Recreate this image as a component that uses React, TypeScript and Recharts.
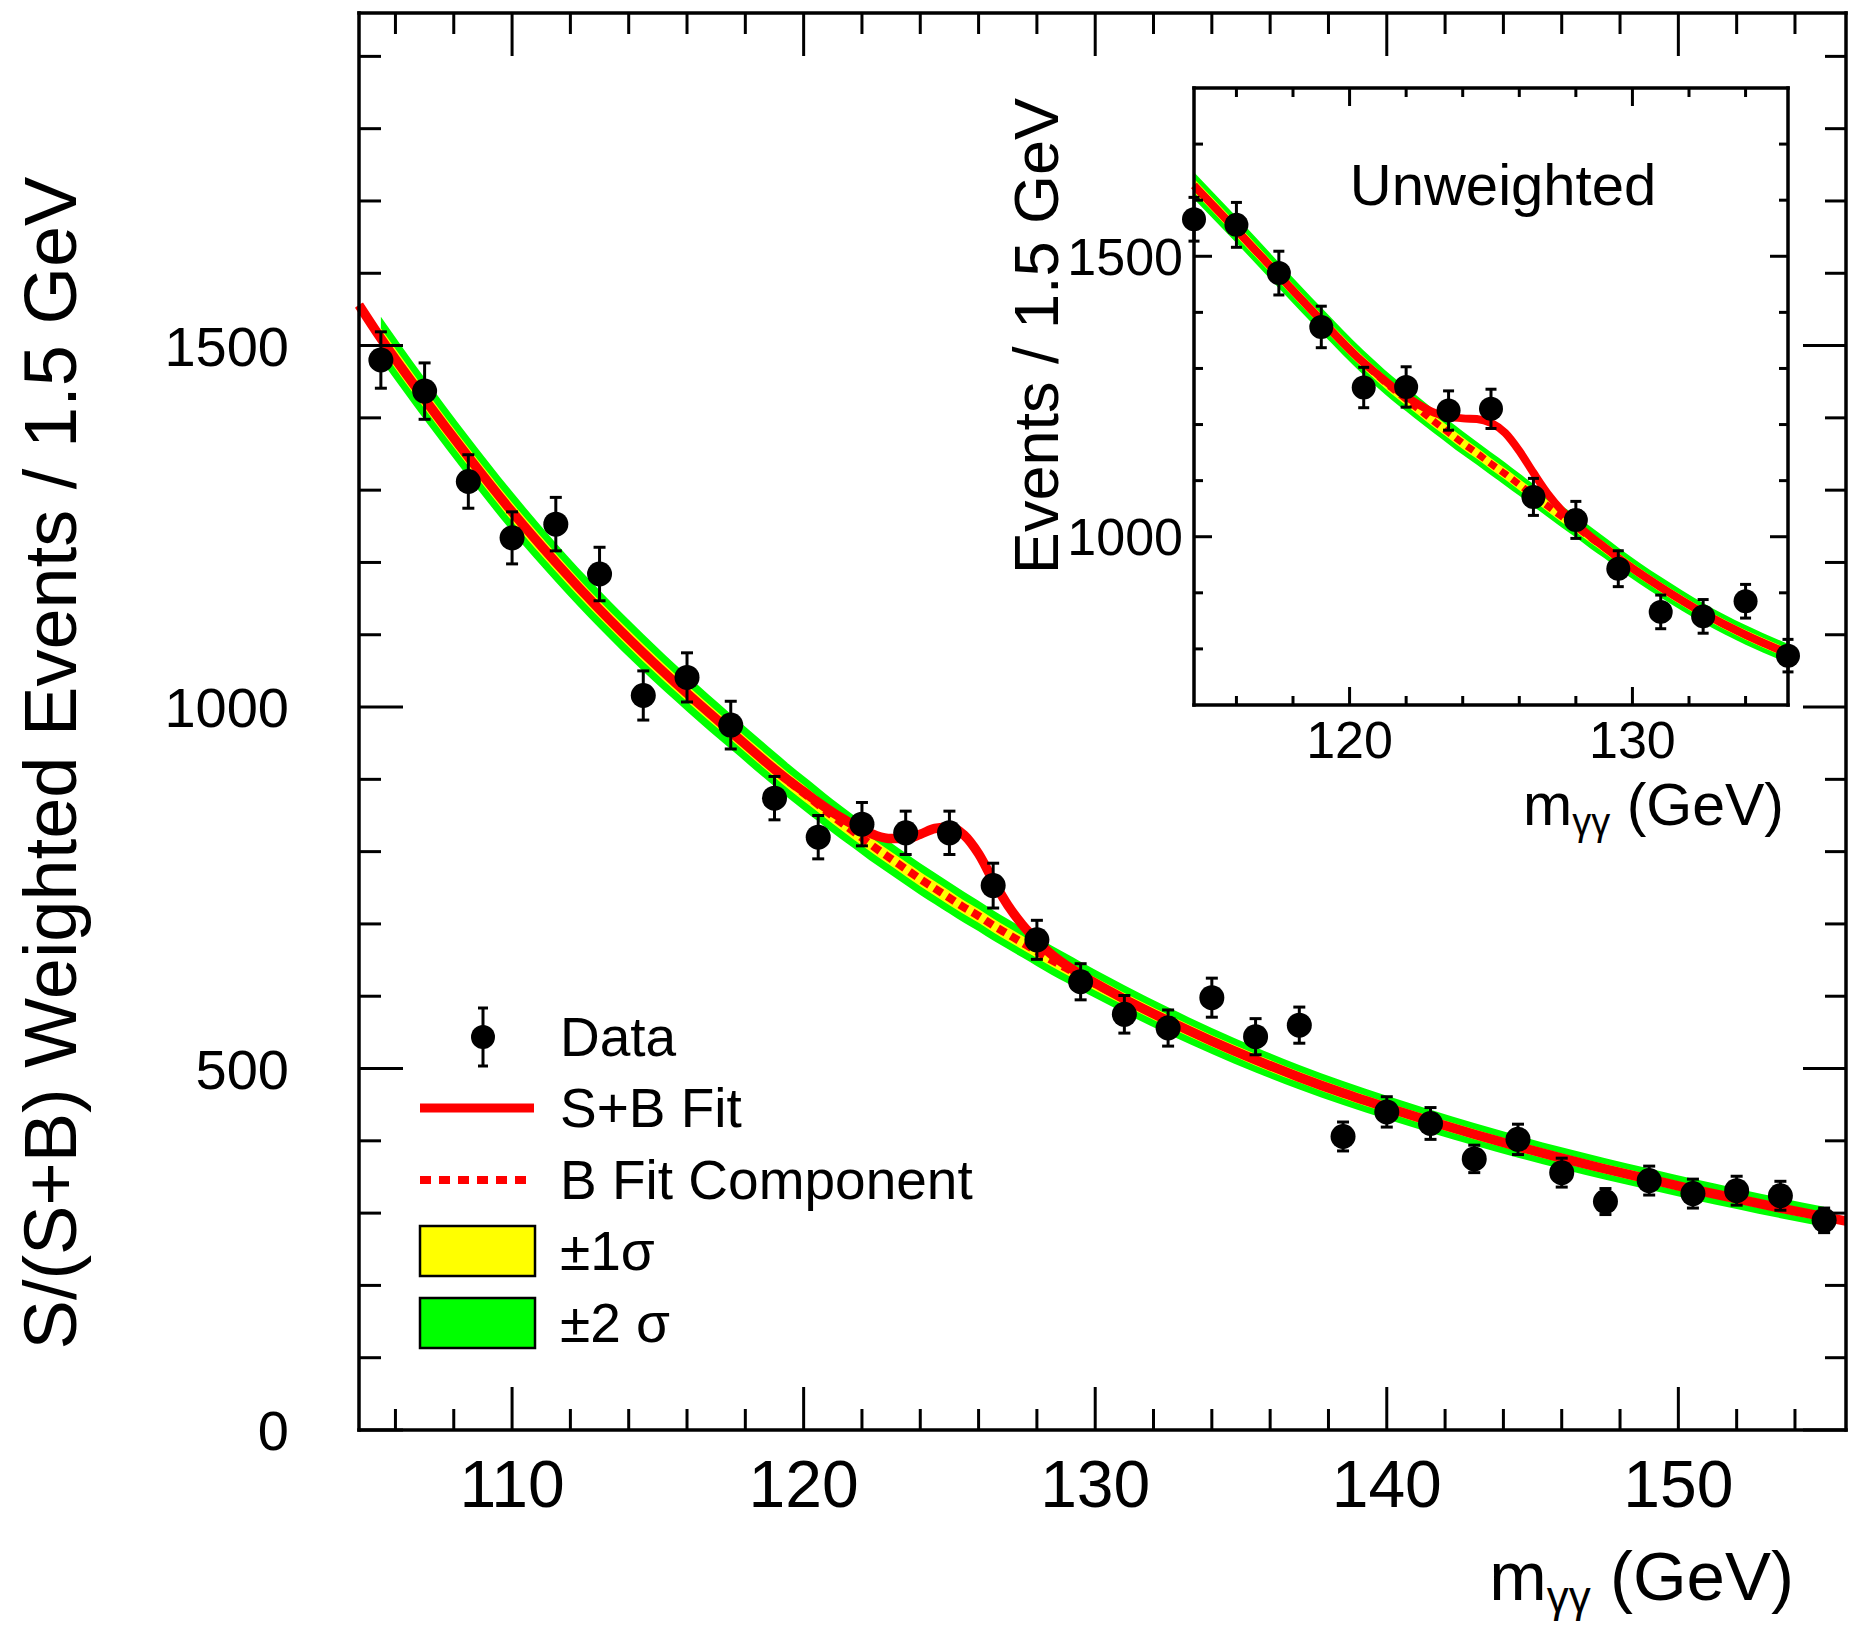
import React from 'react';
import { ComposedChart, Line, Area, Scatter, ErrorBar, XAxis, YAxis } from 'recharts';

const FONT = '"Liberation Sans", Arial, Helvetica, sans-serif';
const RED = '#ff0000';
const GREEN = '#00ff00';
const YELLOW = '#ffff00';

// ---- main plot: weighted events, bin centres every 1.5 GeV ----
const mainMass = [105.5, 107, 108.5, 110, 111.5, 113, 114.5, 116, 117.5, 119, 120.5, 122, 123.5, 125, 126.5, 128, 129.5, 131, 132.5, 134, 135.5, 137, 138.5, 140, 141.5, 143, 144.5, 146, 147.5, 149, 150.5, 152, 153.5, 155];
const mainEvents = [1480, 1437, 1312, 1234, 1253, 1184, 1016, 1041, 975, 874, 820, 838, 826, 826, 753, 678, 620, 575, 556, 598, 544, 560, 406, 440, 424, 375, 402, 356, 316, 345, 327, 331, 324, 290];
const mainErr = [39, 39, 37, 36, 37, 37, 34, 34, 33, 30, 30, 30, 30, 30, 31, 27, 25, 26, 25, 27, 25, 25, 20, 21, 22, 19, 21, 20, 18, 20, 20, 20, 20, 17];

// fit curves
const fitMass = [104.75, 105.5, 107, 108.5, 110, 111.5, 113, 114.5, 116, 117.5, 119, 119.5, 120, 120.5, 121, 121.5, 122, 122.5, 123, 123.5, 124, 124.5, 125, 125.5, 126, 126.5, 127, 127.5, 128, 128.5, 129, 129.5, 130, 131, 132.5, 134, 135.5, 137, 138.5, 140, 141.5, 143, 144.5, 146, 147.5, 149, 150.5, 152, 153.5, 155, 155.75];
const fitBkg = [1556, 1510, 1426, 1346, 1270, 1200, 1135, 1075, 1019, 966, 914, 897, 881, 865, 849, 834, 819, 804, 790, 776, 762, 749, 736, 723, 711, 698, 686, 674, 662, 650, 639, 628, 617, 596, 566, 538, 512, 488, 466, 446, 427, 409, 392, 376, 361, 347, 333, 320, 307, 295, 289];
const fitSigBkg = [1556, 1510, 1426, 1346, 1270, 1200, 1135, 1075, 1019, 966, 914, 898, 883, 868, 854, 842, 831, 822, 818, 818, 824, 832, 834, 823, 797, 760, 726, 699, 677, 658, 643, 630, 618, 596, 566, 538, 512, 488, 466, 446, 427, 409, 392, 376, 361, 347, 333, 320, 307, 295, 289];
const fitSigma1 = [null, 14, 13.5, 13, 13, 12.5, 12, 12, 11.5, 11, 11, 11, 11, 10.5, 10.5, 10.5, 10.5, 10, 10, 10, 10, 10, 10, 9.5, 9.5, 9.5, 9.5, 9.5, 9, 9, 9, 9, 9, 8.5, 8.5, 8, 8, 7.5, 7.5, 7, 7, 7, 6.5, 6.5, 6.5, 6.5, 6, 6, 6, 6, null];
const fitSigma2 = [null, 30, 29, 28.5, 28, 27, 26.5, 26, 25, 24.5, 24, 23.8, 23.6, 23.4, 23.2, 23, 22.8, 22.6, 22.4, 22.2, 22, 21.8, 21.6, 21.4, 21.2, 21, 20.8, 20.6, 20.4, 20.2, 20, 19.8, 19.6, 19.2, 18.6, 18, 17.5, 17, 16.6, 16.2, 15.9, 15.6, 15.3, 15, 14.8, 14.6, 14.4, 14.2, 14, 13.8, null];

// ---- inset: unweighted ----
const insetMass = [114.5, 116, 117.5, 119, 120.5, 122, 123.5, 125, 126.5, 128, 129.5, 131, 132.5, 134, 135.5];
const insetEvents = [1566, 1556, 1470, 1374, 1266, 1267, 1225, 1228, 1071, 1030, 943, 866, 858, 885, 788];
const insetErr = [39, 40, 39, 37, 36, 36, 35, 35, 33, 33, 32, 30, 30, 30, 29];

const insetFitMass = [114.5, 116, 117.5, 119, 120.5, 121, 121.5, 122, 122.5, 123, 123.5, 124, 124.5, 125, 125.5, 126, 126.5, 127, 127.5, 128, 128.5, 129, 129.5, 131, 132.5, 134, 135.5];
const insetBkg = [1626, 1547, 1466, 1386, 1310, 1287, 1265, 1245, 1225, 1205, 1186, 1167, 1149, 1130, 1112, 1093, 1074, 1055, 1036, 1018, 999, 981, 962, 910, 864, 825, 792];
const insetSigBkg = [1626, 1547, 1466, 1386, 1310, 1289, 1268, 1250, 1234, 1221, 1214, 1211, 1210, 1203, 1185, 1153, 1114, 1077, 1047, 1023, 1001, 982, 962, 910, 864, 825, 792];
const insetSigma1 = [12, 12, 11.5, 11, 11, 11, 11, 11, 10.5, 10.5, 10.5, 10.5, 10, 10, 10, 10, 10, 10, 10, 9.5, 9.5, 9.5, 9.5, 9, 9, 8.5, 8.5];
const insetSigma2 = [24, 23.5, 23, 22.5, 22, 22, 21.5, 21.5, 21.5, 21, 21, 21, 20.5, 20.5, 20.5, 20, 20, 20, 19.5, 19.5, 19.5, 19, 19, 18.5, 18, 17.5, 17];

// ---- axes ----
const mainXTicks = [106, 108, 110, 112, 114, 116, 118, 120, 122, 124, 126, 128, 130, 132, 134, 136, 138, 140, 142, 144, 146, 148, 150, 152, 154];
const mainXLabels = [110, 120, 130, 140, 150];
const mainYTicks = [0, 100, 200, 300, 400, 500, 600, 700, 800, 900, 1000, 1100, 1200, 1300, 1400, 1500, 1600, 1700, 1800, 1900];
const mainYLabels = [0, 500, 1000, 1500];
const insetXTicks = [116, 118, 120, 122, 124, 126, 128, 130, 132, 134];
const insetXLabels = [120, 130];
const insetYTicks = [800, 900, 1000, 1100, 1200, 1300, 1400, 1500, 1600, 1700];
const insetYLabels = [1000, 1500];

type Band = number | null;

function buildFit(mass: number[], bkg: number[], sb: number[], s1: Band[], s2: Band[]) {
  return mass.map((m, i) => ({
    x: m,
    b: bkg[i],
    sb: sb[i],
    s1: s1[i] == null ? null : [bkg[i] - (s1[i] as number), bkg[i] + (s1[i] as number)],
    s2: s2[i] == null ? null : [bkg[i] - (s2[i] as number), bkg[i] + (s2[i] as number)],
  }));
}

function buildPoints(mass: number[], ev: number[], err: number[]) {
  return mass.map((m, i) => ({ x: m, y: ev[i], err: err[i] }));
}

const mainFit = buildFit(fitMass, fitBkg, fitSigBkg, fitSigma1, fitSigma2);
const mainPoints = buildPoints(mainMass, mainEvents, mainErr);
const insetFit = buildFit(insetFitMass, insetBkg, insetSigBkg, insetSigma1, insetSigma2);
const insetPoints = buildPoints(insetMass, insetEvents, insetErr);

type Side = 'bottom' | 'top' | 'left' | 'right';

// inward ticks like the ROOT frame, labels only on major ticks
function makeTick(side: Side, majors: number[], minorLen: number, majorLen: number, fontSize = 0, offset = 0) {
  return (props: any) => {
    const { x, y, payload } = props;
    const v = payload.value;
    const major = majors.includes(v);
    const len = major ? majorLen : minorLen;
    let x2 = x;
    let y2 = y;
    if (side === 'bottom') y2 = y - len;
    if (side === 'top') y2 = y + len;
    if (side === 'left') x2 = x + len;
    if (side === 'right') x2 = x - len;
    return (
      <g>
        <line x1={x} y1={y} x2={x2} y2={y2} stroke="#000" strokeWidth={3} />
        {major && fontSize > 0 && side === 'bottom' && (
          <text x={x} y={y + offset} textAnchor="middle" fontSize={fontSize} fontFamily={FONT} fill="#000">
            {v}
          </text>
        )}
        {major && fontSize > 0 && side === 'left' && (
          <text x={x - offset} y={y + fontSize * 0.36} textAnchor="end" fontSize={fontSize} fontFamily={FONT} fill="#000">
            {v}
          </text>
        )}
      </g>
    );
  };
}

const dot = (r: number) => (props: any) => <circle cx={props.cx} cy={props.cy} r={r} fill="#000" />;

const frame = { stroke: '#000', strokeWidth: 3.5, strokeLinecap: 'square' as const };

function Legend() {
  const tx = 560;
  const text = (y: number, s: React.ReactNode) => (
    <text x={tx} y={y} fontSize={55} fontFamily={FONT} fill="#000">
      {s}
    </text>
  );
  return (
    <g>
      <line x1={483} x2={483} y1={1008} y2={1066} stroke="#000" strokeWidth={3} />
      <line x1={478} x2={488} y1={1008} y2={1008} stroke="#000" strokeWidth={3} />
      <line x1={478} x2={488} y1={1066} y2={1066} stroke="#000" strokeWidth={3} />
      <circle cx={483} cy={1037} r={12} fill="#000" />
      {text(1056, 'Data')}
      <line x1={420} x2={534} y1={1108} y2={1108} stroke={RED} strokeWidth={9} />
      {text(1127, 'S+B Fit')}
      <line x1={420} x2={532} y1={1180} y2={1180} stroke={RED} strokeWidth={8} strokeDasharray="11 8" />
      {text(1199, 'B Fit Component')}
      <rect x={420} y={1226} width={115} height={50} fill={YELLOW} stroke="#000" strokeWidth={2.5} />
      {text(1270, '±1σ')}
      <rect x={420} y={1298} width={115} height={50} fill={GREEN} stroke="#000" strokeWidth={2.5} />
      {text(1342, '±2 σ')}
    </g>
  );
}

// top and right frame axes, tied to an invisible copy of the fit so they render
function mirrorAxes(xDomain: number[], yDomain: number[], xTicks: number[], yTicks: number[], xMaj: number[], yMaj: number[], minor: number, major: number) {
  return [
    <XAxis
      key="xt"
      xAxisId="top"
      dataKey="x"
      orientation="top"
      type="number"
      domain={xDomain}
      ticks={xTicks}
      interval={0}
      height={1}
      tickSize={0}
      tickMargin={0}
      tickLine={false}
      axisLine={frame}
      tick={makeTick('top', xMaj, minor, major)}
    />,
    <YAxis
      key="yr"
      yAxisId="right"
      orientation="right"
      type="number"
      domain={yDomain}
      ticks={yTicks}
      interval={0}
      width={1}
      tickSize={0}
      tickMargin={0}
      tickLine={false}
      axisLine={frame}
      tick={makeTick('right', yMaj, minor, major)}
    />,
    <Line
      key="ghost"
      xAxisId="top"
      yAxisId="right"
      dataKey="b"
      stroke="none"
      strokeWidth={0}
      dot={false}
      activeDot={false}
      legendType="none"
      isAnimationActive={false}
    />,
  ];
}

export default function App() {
  return (
    <div style={{ position: 'absolute', left: 0, top: 0, width: 1850, height: 1629, background: '#fff' }}>
      <ComposedChart
        width={1850}
        height={1629}
        data={mainFit}
        margin={{ top: 12, right: 3, left: 0, bottom: 0 }}
      >
        <XAxis
          dataKey="x"
          type="number"
          domain={[104.75, 155.75]}
          ticks={mainXTicks}
          interval={0}
          height={199}
          tickSize={0}
          tickMargin={0}
          tickLine={false}
          axisLine={frame}
          tick={makeTick('bottom', mainXLabels, 21, 43, 66, 77)}
        />
        <YAxis
          type="number"
          domain={[0, 1960]}
          ticks={mainYTicks}
          interval={0}
          width={359}
          tickSize={0}
          tickMargin={0}
          tickLine={false}
          axisLine={frame}
          tick={makeTick('left', mainYLabels, 22, 44, 56, 70)}
        />
        {mirrorAxes([104.75, 155.75], [0, 1960], mainXTicks, mainYTicks, mainXLabels, mainYLabels, 21, 43)}
        <Area dataKey="s2" type="monotone" stroke="none" fill={GREEN} fillOpacity={1} isAnimationActive={false} activeDot={false} />
        <Area dataKey="s1" type="monotone" stroke="none" fill={YELLOW} fillOpacity={1} isAnimationActive={false} activeDot={false} />
        <Line dataKey="b" type="monotone" stroke={RED} strokeWidth={8} strokeDasharray="9 6" dot={false} activeDot={false} isAnimationActive={false} />
        <Line dataKey="sb" type="monotone" stroke={RED} strokeWidth={9.5} dot={false} activeDot={false} isAnimationActive={false} />
        <Scatter data={mainPoints} dataKey="y" shape={dot(12.5)} isAnimationActive={false}>
          <ErrorBar dataKey="err" direction="y" width={6} stroke="#000" strokeWidth={3} />
        </Scatter>
        <text
          transform="translate(76 763) rotate(-90)"
          textAnchor="middle"
          fontSize={74}
          fontFamily={FONT}
          fill="#000"
        >
          S/(S+B) Weighted Events / 1.5 GeV
        </text>
        <text x={1794} y={1600} textAnchor="end" fontSize={69} fontFamily={FONT} fill="#000">
          m<tspan fontSize={44} dy={12}>γγ</tspan>
          <tspan dy={-12}> (GeV)</tspan>
        </text>
        <Legend />
      </ComposedChart>

      <div style={{ position: 'absolute', left: 1000, top: 60 }}>
        <ComposedChart
          width={800}
          height={800}
          data={insetFit}
          margin={{ top: 27, right: 11, left: 0, bottom: 0 }}
        >
          <XAxis
            dataKey="x"
            type="number"
            domain={[114.5, 135.5]}
            ticks={insetXTicks}
            interval={0}
            height={155}
            tickSize={0}
            tickMargin={0}
            tickLine={false}
            axisLine={frame}
            tick={makeTick('bottom', insetXLabels, 9, 18, 52, 53)}
          />
          <YAxis
            type="number"
            domain={[700, 1800]}
            ticks={insetYTicks}
            interval={0}
            width={194}
            tickSize={0}
            tickMargin={0}
            tickLine={false}
            axisLine={frame}
            tick={makeTick('left', insetYLabels, 9, 18, 52, 11)}
          />
          {mirrorAxes([114.5, 135.5], [700, 1800], insetXTicks, insetYTicks, insetXLabels, insetYLabels, 9, 18)}
          <Area dataKey="s2" type="monotone" stroke="none" fill={GREEN} fillOpacity={1} isAnimationActive={false} activeDot={false} />
          <Area dataKey="s1" type="monotone" stroke="none" fill={YELLOW} fillOpacity={1} isAnimationActive={false} activeDot={false} />
          <Line dataKey="b" type="monotone" stroke={RED} strokeWidth={7} strokeDasharray="8 6" dot={false} activeDot={false} isAnimationActive={false} />
          <Line dataKey="sb" type="monotone" stroke={RED} strokeWidth={8} dot={false} activeDot={false} isAnimationActive={false} />
          <Scatter data={insetPoints} dataKey="y" shape={dot(12)} isAnimationActive={false}>
            <ErrorBar dataKey="err" direction="y" width={5.5} stroke="#000" strokeWidth={3} />
          </Scatter>
          <text x={503} y={145} textAnchor="middle" fontSize={58} fontFamily={FONT} fill="#000">
            Unweighted
          </text>
          <text
            transform="translate(58 276) rotate(-90)"
            textAnchor="middle"
            fontSize={63}
            fontFamily={FONT}
            fill="#000"
          >
            Events / 1.5 GeV
          </text>
          <text x={784} y={765} textAnchor="end" fontSize={59} fontFamily={FONT} fill="#000">
            m<tspan fontSize={38} dy={10}>γγ</tspan>
            <tspan dy={-10}> (GeV)</tspan>
          </text>
        </ComposedChart>
      </div>
    </div>
  );
}
